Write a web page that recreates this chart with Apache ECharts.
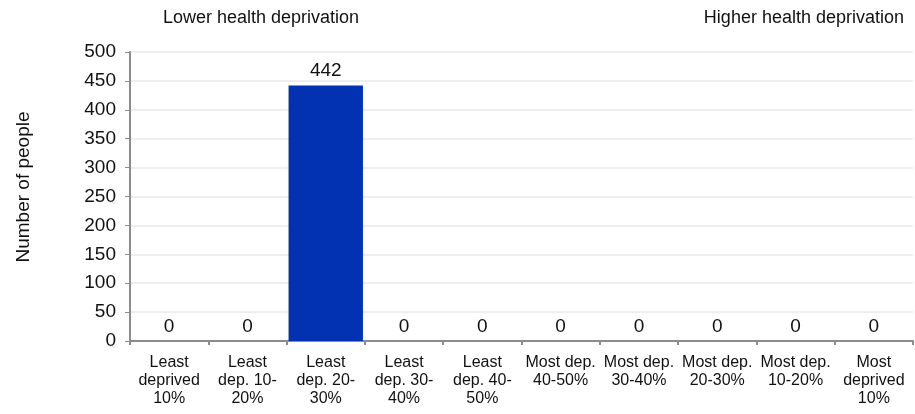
<!DOCTYPE html>
<html><head><meta charset="utf-8">
<script src="https://cdn.jsdelivr.net/npm/echarts@6/dist/echarts.min.js"></script>
<style>html,body{margin:0;padding:0;background:#fff}#c{width:915px;height:414px}</style>
</head><body><div id="c"></div>
<script>
const categories = ['Least\ndeprived\n10%','Least\ndep. 10-\n20%','Least\ndep. 20-\n30%','Least\ndep. 30-\n40%','Least\ndep. 40-\n50%','Most dep.\n40-50%','Most dep.\n30-40%','Most dep.\n20-30%','Most dep.\n10-20%','Most\ndeprived\n10%'];
const values = [0,0,442,0,0,0,0,0,0,0];
const yTicks = [0,50,100,150,200,250,300,350,400,450,500];
const F = 'Liberation Sans, Arial, sans-serif';
const chart = echarts.init(document.getElementById('c'));
chart.setOption({
  animation:false,
  grid:{left:130,right:2,top:52,bottom:73,containLabel:false},
  xAxis:{type:'category',data:categories,
    axisLine:{lineStyle:{color:'#8c8c8c',width:2}},
    axisTick:{show:true,length:4,lineStyle:{color:'#8c8c8c',width:2}},
    axisLabel:{color:'#111',fontFamily:F,fontSize:16,lineHeight:18,margin:13,interval:0}},
  yAxis:{type:'value',min:0,max:500,interval:50,
    axisLine:{show:true,lineStyle:{color:'#8c8c8c',width:2}},
    axisTick:{show:true,length:5,lineStyle:{color:'#8c8c8c',width:1}},
    splitLine:{lineStyle:{color:'#e8e8e8',width:1.5}},
    axisLabel:{color:'#111',fontFamily:F,fontSize:19,margin:14,
      formatter:v=>yTicks.includes(v)?String(v):''}},
  series:[{type:'bar',data:values,barCategoryGap:'5%',
    itemStyle:{color:'#0231B1'},
    label:{show:true,position:'top',distance:5,color:'#111',fontFamily:F,fontSize:19}}],
  graphic:[
    {type:'text',left:163,top:9,style:{text:'Lower health deprivation',font:'18px '+F,fill:'#111'}},
    {type:'text',right:11,top:9,style:{text:'Higher health deprivation',font:'18px '+F,fill:'#111'}},
    {type:'text',x:24,y:187,rotation:Math.PI/2,style:{text:'Number of people',font:'19px '+F,fill:'#111',align:'center',verticalAlign:'middle'}}
  ]
});
</script></body></html>
